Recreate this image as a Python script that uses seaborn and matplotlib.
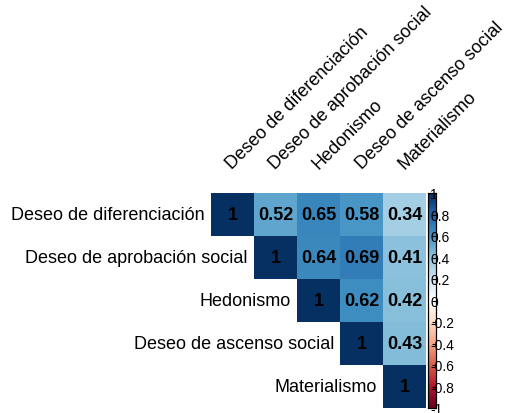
import numpy as np
import pandas as pd
import matplotlib
matplotlib.use("Agg")
import matplotlib.pyplot as plt
from matplotlib.colors import LinearSegmentedColormap
import seaborn as sns

variables = [
    "Deseo de diferenciación",
    "Deseo de aprobación social",
    "Hedonismo",
    "Deseo de ascenso social",
    "Materialismo",
]

# upper-triangle correlations, row by row
row_difer = [1.00, 0.52, 0.65, 0.58, 0.34]
row_aprob = [0.64, 0.69, 0.41]
row_hedon = [0.62, 0.42]
row_ascen = [0.43]

cbar_ticks = [-1, -0.8, -0.6, -0.4, -0.2, 0, 0.2, 0.4, 0.6, 0.8, 1]
cbar_labels = ["-1", "-0.8", "-0.6", "-0.4", "-0.2", "0", "0.2", "0.4", "0.6", "0.8", "1"]

n = len(variables)
corr = np.eye(n)
corr[0, :] = row_difer
corr[1, 2:] = row_aprob
corr[2, 3:] = row_hedon
corr[3, 4:] = row_ascen
corr = corr + np.triu(corr, 1).T
df = pd.DataFrame(corr, index=variables, columns=variables)

mask = np.tril(np.ones_like(corr, dtype=bool), k=-1)
annot = np.vectorize(lambda v: "1" if v == 1 else f"{v:.2f}")(corr)

palette = ["#67001F", "#B2182B", "#D6604D", "#F4A582", "#FDDBC7", "#FFFFFF",
           "#D1E5F0", "#92C5DE", "#4393C3", "#2166AC", "#053061"]
cmap = LinearSegmentedColormap.from_list("rdbu_corr", palette, N=200)

plt.rcParams["font.family"] = ["Liberation Sans", "DejaVu Sans"]

fig = plt.figure(figsize=(5.12, 4.14), dpi=100)
ax = fig.add_axes([211 / 512, 1 - 409 / 414, 215 / 512, 215 / 414])
cax = fig.add_axes([428 / 512, 1 - 409 / 414, 8 / 512, 215 / 414])

sns.heatmap(df, mask=mask, cmap=cmap, vmin=-1, vmax=1, annot=annot, fmt="",
            annot_kws={"fontsize": 13, "fontweight": "bold", "color": "black"},
            cbar=True, cbar_ax=cax, ax=ax, linewidths=0, square=False)

ax.xaxis.tick_top()
ax.set_xticklabels(variables, rotation=45, ha="left", va="baseline",
                   rotation_mode="anchor", fontsize=13, color="black")
ax.tick_params(axis="x", length=0, pad=17)
ax.set_yticks([])
ax.set_xlabel("")
ax.set_ylabel("")
for i, name in enumerate(variables):
    ax.text(i - 0.14, i + 0.5, name, ha="right", va="center", fontsize=13, color="black")

cax.set_yticks(cbar_ticks)
cax.set_yticklabels(cbar_labels)
cax.tick_params(axis="y", length=3, width=0.8, direction="in", pad=-4,
                labelsize=10, colors="black")
for spine in cax.spines.values():
    spine.set_visible(True)
    spine.set_color("black")
    spine.set_linewidth(0.8)

fig.savefig("out.png", dpi=100)
